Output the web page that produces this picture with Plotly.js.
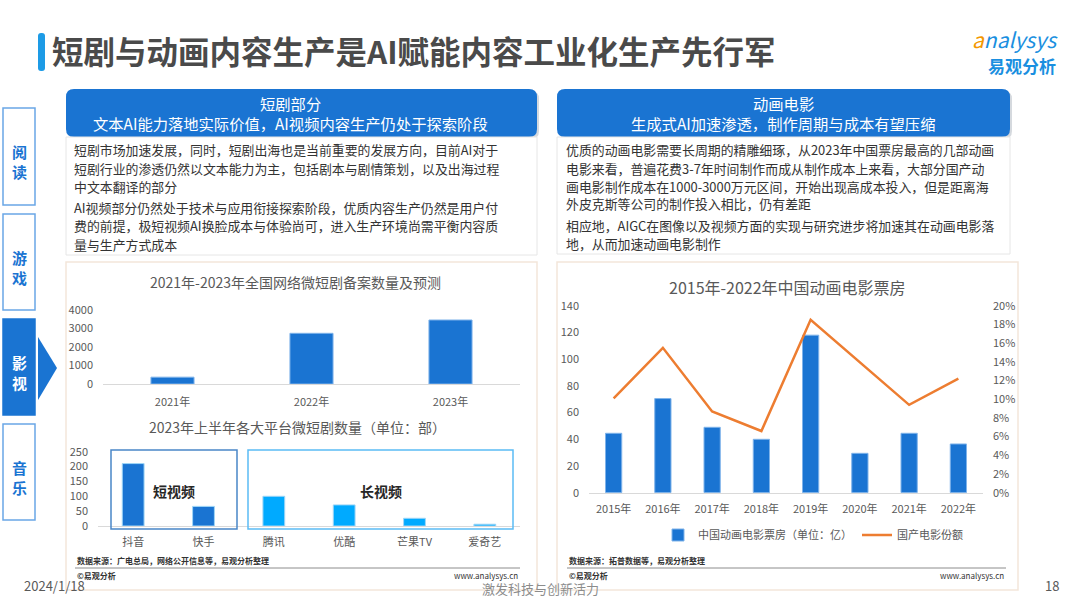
<!DOCTYPE html>
<html>
<head>
<meta charset="utf-8">
<script src="https://cdn.plot.ly/plotly-3.0.1.min.js"></script>
<style>
html,body{margin:0;padding:0;background:#fff;}
#chart{width:1080px;height:608px;}
</style>
</head>
<body>
<div id="chart"></div>
<script>
// ---------- data ----------
const dramaYears = ['2021年', '2022年', '2023年'];
const dramaFilings = [370, 2740, 3460];

const platforms = ['抖音', '快手', '腾讯', '优酷', '芒果TV', '爱奇艺'];
const platformCounts = [210, 66, 100, 71, 26, 6];
const platformTypes = ['短视频', '短视频', '长视频', '长视频', '长视频', '长视频'];

const filmYears = ['2015年', '2016年', '2017年', '2018年', '2019年', '2020年', '2021年', '2022年'];
const animBoxOffice = [44.5, 70.5, 49, 40, 118, 29.5, 44.5, 36.5];
const domesticShare = [10.1, 15.5, 8.7, 6.6, 18.5, 14.0, 9.4, 12.2];

const navItems = ['阅读', '游戏', '影视', '音乐'];
const leftText = [
  '短剧市场加速发展，同时，短剧出海也是当前重要的发展方向，目前AI对于',
  '短剧行业的渗透仍然以文本能力为主，包括剧本与剧情策划，以及出海过程',
  '中文本翻译的部分',
  'AI视频部分仍然处于技术与应用衔接探索阶段，优质内容生产仍然是用户付',
  '费的前提，极短视频AI换脸成本与体验尚可，进入生产环境尚需平衡内容质',
  '量与生产方式成本'
];
const rightText = [
  '优质的动画电影需要长周期的精雕细琢，从2023年中国票房最高的几部动画',
  '电影来看，普遍花费3-7年时间制作而成从制作成本上来看，大部分国产动',
  '画电影制作成本在1000-3000万元区间，开始出现高成本投入，但是距离海',
  '外皮克斯等公司的制作投入相比，仍有差距',
  '相应地，AIGC在图像以及视频方面的实现与研究进步将加速其在动画电影落',
  '地，从而加速动画电影制作'
];

// ---------- helpers ----------
const W = 1080, H = 608;
const px = x => x / W;
const py = y => 1 - y / H;
const FONT = '"Noto Sans CJK SC", "Microsoft YaHei", sans-serif';
const BLUE = '#1a74d2';
const LIGHTBLUE = '#00aaff';
const ORANGE = '#ed7d31';

const shapes = [];
const annotations = [];
function rect(x0, y0, x1, y1, fill, line, lw, extra) {
  shapes.push(Object.assign({type: 'rect', xref: 'paper', yref: 'paper', layer: 'below',
    x0: px(x0), x1: px(x1), y0: py(y1), y1: py(y0),
    fillcolor: fill, line: {color: line || 'rgba(0,0,0,0)', width: lw || 0}}, extra || {}));
}
function rrect(x0, y0, x1, y1, r, fill, line, lw) {
  const p = `M ${x0 + r},${y0} L ${x1 - r},${y0} Q ${x1},${y0} ${x1},${y0 + r} L ${x1},${y1 - r} Q ${x1},${y1} ${x1 - r},${y1} L ${x0 + r},${y1} Q ${x0},${y1} ${x0},${y1 - r} L ${x0},${y0 + r} Q ${x0},${y0} ${x0 + r},${y0} Z`;
  const conv = p.replace(/(-?\d+\.?\d*),(-?\d+\.?\d*)/g, (m, a, b) => `${px(+a)},${py(+b)}`);
  shapes.push({type: 'path', xref: 'paper', yref: 'paper', layer: 'below', path: conv,
    fillcolor: fill, line: {color: line || 'rgba(0,0,0,0)', width: lw || 0}});
}
function text(t, x, y, size, color, anchor, extra) {
  annotations.push(Object.assign({text: t, x: px(x), y: py(y), xref: 'paper', yref: 'paper',
    showarrow: false, xanchor: anchor || 'left', yanchor: 'middle',
    font: {family: FONT, size: size, color: color}}, extra || {}));
}

// ---------- page decoration ----------
rrect(38, 33, 45, 71, 3, '#1d9be6');
text('<b>短剧与动画内容生产是AI赋能内容工业化生产先行军</b>', 50, 50, 31.5, '#4a4a4a');
text('<i><span style="color:#f39800">a</span>nalysys</i>', 1060, 39, 21, '#1a8fe0', 'right');
text('<b>易观分析</b>', 1058, 66, 17, '#1a8fe0', 'right');

// side navigation
const navY = [[108, 205], [214, 310], [319, 415], [424, 520]];
navItems.forEach((n, i) => {
  const sel = n === '影视';
  const c = (navY[i][0] + navY[i][1]) / 2 + 5;
  rect(3, navY[i][0], 35, navY[i][1], sel ? BLUE : '#ffffff', sel ? BLUE : '#6aa7e6', 1.5);
  text('<b>' + n[0] + '</b>', 19, c - 10, 15, sel ? '#ffffff' : BLUE, 'center');
  text('<b>' + n[1] + '</b>', 19, c + 10, 15, sel ? '#ffffff' : BLUE, 'center');
});
shapes.push({type: 'path', xref: 'paper', yref: 'paper', layer: 'below',
  path: `M ${px(38)},${py(337)} L ${px(57)},${py(368)} L ${px(38)},${py(400)} Z`,
  fillcolor: BLUE, line: {width: 0}});

// header boxes
rrect(68, 91, 539, 139, 8, '#d5d9de');
rrect(66, 89, 537, 137, 8, BLUE);
text('短剧部分', 290, 103, 15.3, '#ffffff', 'center');
text('文本AI能力落地实际价值，AI视频内容生产仍处于探索阶段', 290, 123, 15.3, '#ffffff', 'center');
rrect(559, 91, 1012, 139, 8, '#d5d9de');
rrect(557, 89, 1010, 137, 8, BLUE);
text('动画电影', 783, 103, 15.3, '#ffffff', 'center');
text('生成式AI加速渗透，制作周期与成本有望压缩', 783, 123, 15.3, '#ffffff', 'center');

// text boxes
rect(66, 137, 537, 255, '#ffffff', '#e6e6e6', 1);
rect(557, 137, 1010, 254, '#ffffff', '#e6e6e6', 1);
const leftY = [149.5, 168, 186.5, 207, 225.5, 244];
leftText.forEach((t, i) => text(t, 72, leftY[i], 12.9, '#333333'));
const rightY = [149.5, 168, 186, 203.5, 225, 243];
rightText.forEach((t, i) => text(t, 564, rightY[i], 12.9, '#333333'));

// chart panels
rect(66, 262, 537, 590, '#ffffff', '#f3e6da', 1.5);
rect(557, 262, 1018, 590, '#ffffff', '#f3e6da', 1.5);

// chart titles
text('2021年-2023年全国网络微短剧备案数量及预测', 295, 282, 14, '#595959', 'center');
text('2023年上半年各大平台微短剧数量（单位：部）', 297, 427, 14, '#595959', 'center');
text('2015年-2022年中国动画电影票房', 787, 287, 16, '#595959', 'center');

// short / long video boxes
rect(111, 450, 237, 529, 'rgba(0,0,0,0)', '#4a86c8', 1.5, {layer: 'above'});
rect(248, 450, 513, 529, 'rgba(0,0,0,0)', '#5bbcf5', 1.5, {layer: 'above'});
text('<b>短视频</b>', 174, 491, 14, '#262626', 'center');
text('<b>长视频</b>', 381, 491, 14, '#262626', 'center');

// sources
text('<b>数据来源：广电总局，网络公开信息等，易观分析整理</b>', 75, 560, 8, '#333333');
shapes.push({type: 'line', xref: 'paper', yref: 'paper', x0: px(75), x1: px(520), y0: py(568), y1: py(568), line: {color: '#8c8c8c', width: 1}});
text('<b>©易观分析</b>', 75, 575, 8, '#333333');
text('www.analysys.cn', 520, 575, 8, '#333333', 'right');

text('<b>数据来源：拓普数据等，易观分析整理</b>', 567, 560, 8, '#333333');
shapes.push({type: 'line', xref: 'paper', yref: 'paper', x0: px(567), x1: px(1006), y0: py(568), y1: py(568), line: {color: '#8c8c8c', width: 1}});
text('<b>©易观分析</b>', 567, 575, 8, '#333333');
text('www.analysys.cn', 1006, 575, 8, '#333333', 'right');

// footer
text('2024/1/18', 22, 585, 13, '#595959');
text('激发科技与创新活力', 540, 588, 13, '#8c8c8c', 'center');
text('18', 1052, 585, 13, '#595959', 'center');

// ---------- traces ----------
const traces = [
  {type: 'bar', x: dramaYears, y: dramaFilings, xaxis: 'x', yaxis: 'y',
   marker: {color: BLUE, line: {color: '#7fb3ea', width: 1}}, width: 0.31, showlegend: false, hoverinfo: 'x+y'},
  {type: 'bar', x: platforms, y: platformCounts, xaxis: 'x2', yaxis: 'y2',
   marker: {color: platformTypes.map(t => t === '短视频' ? BLUE : LIGHTBLUE), line: {color: '#9fd6f7', width: 1}},
   width: 0.31, showlegend: false, hoverinfo: 'x+y'},
  {type: 'bar', name: '中国动画电影票房（单位：亿）', x: filmYears, y: animBoxOffice, xaxis: 'x3', yaxis: 'y3',
   marker: {color: BLUE, line: {color: '#7fb3ea', width: 1}}, width: 0.33},
  {type: 'scatter', mode: 'lines', name: '国产电影份额', x: filmYears, y: domesticShare, xaxis: 'x3', yaxis: 'y4',
   line: {color: ORANGE, width: 2.5}}
];

const tickFont = {family: FONT, size: 11, color: '#595959'};
const catAxis = (domain, n, anchor) => ({domain: domain, anchor: anchor, type: 'category', range: [-0.5, n - 0.5],
  showgrid: false, zeroline: false, showline: true, linecolor: '#d9d9d9', linewidth: 1, ticks: '',
  tickfont: tickFont, ticklabelstandoff: 6, fixedrange: true});
const valAxis = (domain, range, dtick, anchor, extra) => Object.assign({domain: domain, anchor: anchor, range: range, dtick: dtick,
  showgrid: false, zeroline: false, showline: false, ticks: '', tickfont: tickFont, ticklabelstandoff: 9, fixedrange: true}, extra || {});

const layout = {
  width: W, height: H,
  margin: {l: 0, r: 0, t: 0, b: 0},
  paper_bgcolor: '#ffffff', plot_bgcolor: 'rgba(0,0,0,0)',
  font: {family: FONT, color: '#595959'},
  bargap: 0.3,
  xaxis: catAxis([px(103), px(520)], dramaYears.length, 'y'),
  yaxis: valAxis([py(384), py(310)], [0, 4000], 1000, 'x'),
  xaxis2: catAxis([px(98), px(520)], platforms.length, 'y2'),
  yaxis2: valAxis([py(526), py(451.7)], [0, 250], 50, 'x2'),
  xaxis3: catAxis([px(589), px(983)], filmYears.length, 'y3'),
  yaxis3: valAxis([py(492.7), py(305.8)], [0, 140], 20, 'x3'),
  yaxis4: valAxis([py(492.7), py(305.8)], [0, 20], 2, 'x3', {overlaying: 'y3', side: 'right', ticksuffix: '%'}),
  showlegend: true,
  legend: {orientation: 'h', x: px(658), y: py(535), xanchor: 'left', yanchor: 'middle',
    font: {family: FONT, size: 11, color: '#595959'}, itemwidth: 30, bgcolor: 'rgba(0,0,0,0)', tracegroupgap: 0},
  shapes: shapes,
  annotations: annotations
};
layout.xaxis.ticklabelstandoff = 8;

Plotly.newPlot('chart', traces, layout, {displayModeBar: false, staticPlot: true});
</script>
</body>
</html>
